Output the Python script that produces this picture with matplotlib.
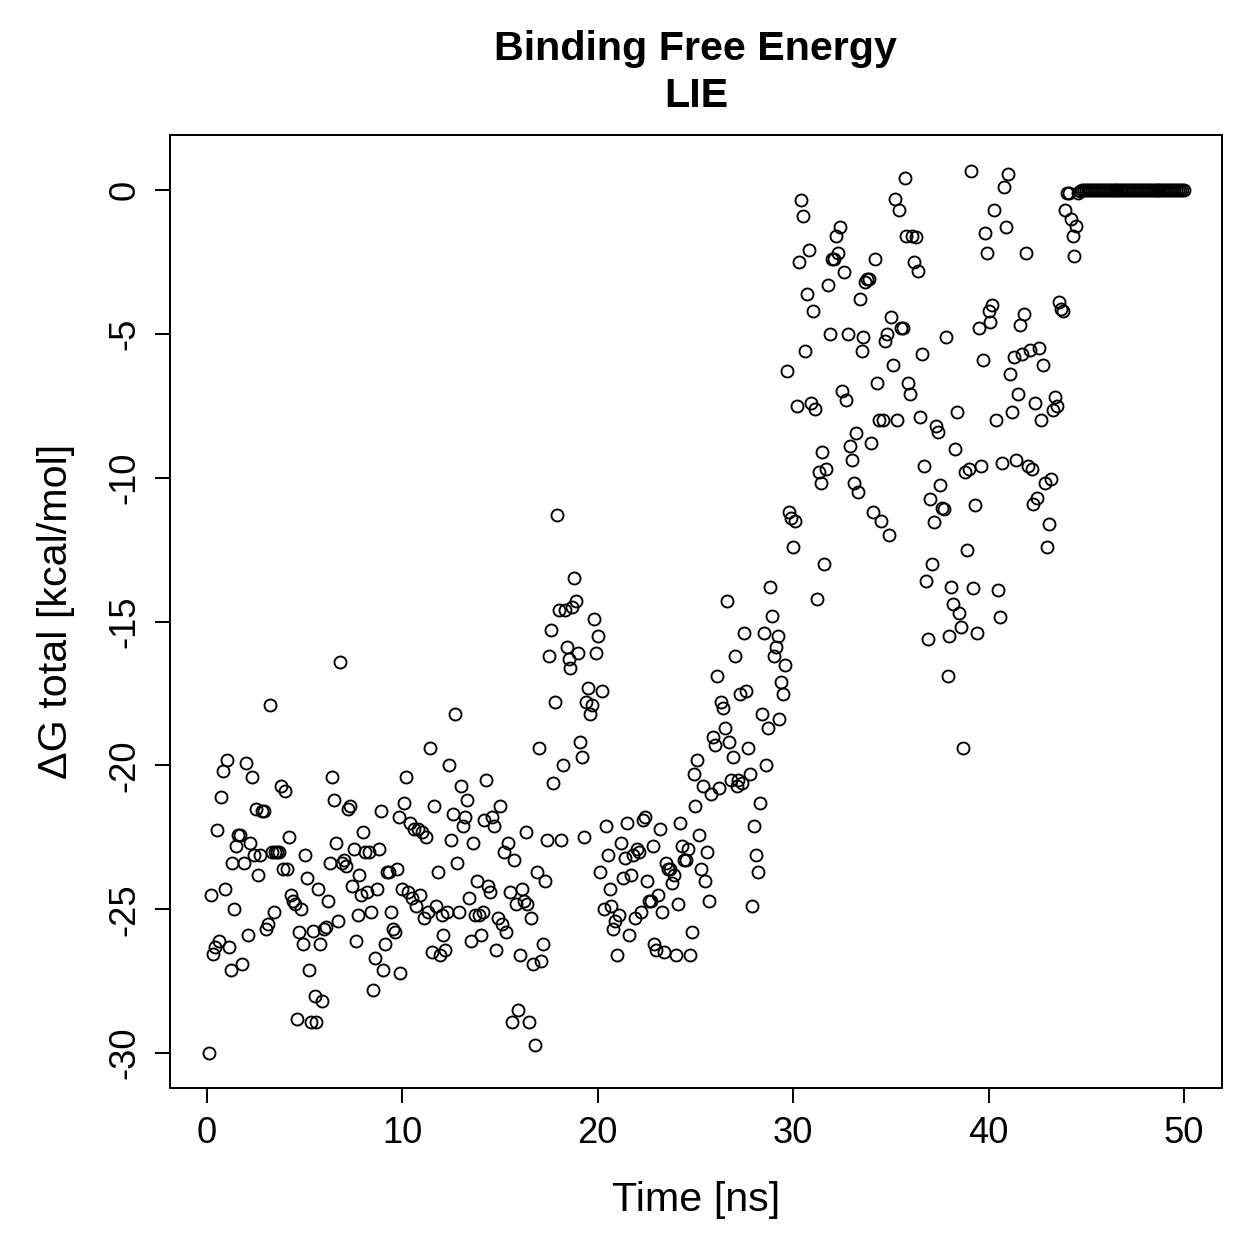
import numpy as np
import matplotlib
matplotlib.use("Agg")
import matplotlib.pyplot as plt

plt.rcParams['font.family'] = ['Liberation Sans', 'DejaVu Sans']

# dG readings for frames 0.1 ns apart (0.1 ... ~44.6 ns)
dg_head = [
    -30.0, -24.5, -26.55, -26.3, -22.25, -26.1, -21.1, -20.2, -24.3, -19.8,
    -26.3, -27.1, -23.4, -25.0, -22.8, -22.4, -22.4, -26.9, -23.4, -19.9,
    -25.9, -22.7, -20.4, -23.1, -21.5, -23.8, -23.1, -21.6, -21.6, -25.7,
    -25.5, -17.9, -23.0, -25.1, -23.0, -23.0, -23.0, -20.7, -23.6, -20.9,
    -23.6, -22.5, -24.5, -24.7, -24.8, -28.8, -25.8, -25.0, -26.2, -23.1,
    -23.9, -27.1, -28.9, -25.75, -28.0, -28.9, -24.3, -26.2, -28.2, -25.7,
    -25.6, -24.7, -23.4, -20.4, -21.2, -22.7, -25.4, -16.4, -23.4, -23.3,
    -23.5, -21.5, -21.4, -24.2, -22.9, -26.1, -25.2, -23.8, -24.5, -22.3,
    -23.0, -24.4, -23.0, -25.1, -27.8, -26.7, -24.3, -22.9, -21.6, -27.1,
    -26.2, -23.7, -23.7, -25.1, -25.7, -25.8, -23.6, -21.8, -27.2, -24.3,
    -21.3, -20.4, -24.4, -22.0, -24.6, -22.2, -24.9, -22.2, -24.5, -22.3,
    -25.3, -22.5, -25.1, -19.4, -26.5, -21.4, -24.9, -23.7, -26.6, -25.2,
    -25.9, -26.4, -25.1, -20.0, -22.6, -21.7, -18.2, -23.4, -25.1, -20.7,
    -22.1, -21.8, -21.2, -24.6, -26.1, -22.7, -25.2, -24.0, -25.2, -25.9,
    -25.1, -21.9, -20.5, -24.2, -24.4, -21.8, -22.1, -26.4, -25.3, -21.4,
    -25.5, -23.0, -25.8, -22.7, -24.4, -28.9, -23.3, -24.8, -28.5, -26.6,
    -24.3, -24.7, -22.3, -24.8, -28.9, -25.3, -26.9, -29.7, -23.7, -19.4,
    -26.8, -26.2, -24.0, -22.6, -16.2, -15.3, -20.6, -17.8, -11.3, -14.6,
    -22.6, -20.0, -14.6, -15.9, -16.3, -16.6, -14.5, -13.5, -14.3, -16.1,
    -19.2, -19.7, -22.5, -17.8, -17.3, -18.2, -17.9, -14.9, -16.1, -15.5,
    -23.7, -17.4, -25.0, -22.1, -23.1, -24.3, -24.9, -25.7, -25.4, -26.6,
    -25.2, -22.7, -23.9, -23.2, -22.0, -25.9, -23.8, -23.1, -25.3, -22.9,
    -23.0, -25.1, -21.9, -21.8, -24.0, -24.7, -24.7, -22.8, -26.2, -26.4,
    -24.5, -22.2, -25.1, -26.5, -23.4, -23.6, -23.6, -24.1, -23.8, -26.6,
    -24.8, -22.0, -22.8, -23.3, -23.3, -22.9, -26.6, -25.8, -20.3, -21.4,
    -19.8, -22.4, -23.6, -20.7, -24.0, -23.0, -24.7, -21.0, -19.0, -19.3,
    -16.9, -20.8, -17.8, -18.0, -18.7, -14.3, -19.2, -20.5, -19.7, -16.2,
    -20.7, -20.5, -17.5, -20.6, -15.4, -17.4, -19.4, -20.3, -24.9, -22.1,
    -23.1, -23.7, -21.3, -18.2, -15.4, -20.0, -18.7, -13.8, -14.8, -16.2,
    -15.9, -15.5, -18.4, -17.1, -17.5, -16.5, -6.3, -11.2, -11.4, -12.4,
    -11.5, -7.5, -2.5, -0.35, -0.9, -5.6, -3.6, -2.1, -7.4, -4.2,
    -7.6, -14.2, -9.8, -10.2, -9.1, -13.0, -9.7, -3.3, -5.0, -2.4,
    -2.4, -1.6, -2.2, -1.3, -7.0, -2.85, -7.3, -5.0, -8.9, -9.4,
    -10.2, -8.45, -10.5, -3.8, -5.6, -5.1, -3.2, -3.1, -3.1, -8.8,
    -11.2, -2.4, -6.7, -8.0, -11.5, -8.0, -5.25, -5.0, -12.0, -4.4,
    -6.1, -0.3, -8.0, -0.7, -4.8, -4.8, 0.4, -1.6, -6.7, -7.1,
    -1.6, -2.5, -1.65, -2.8, -7.9, -5.7, -9.6, -13.6, -15.6, -10.75,
    -13.0, -11.55, -8.2, -8.4, -10.25, -11.05, -11.1, -5.1, -16.9, -15.5,
    -13.8, -14.4, -9.0, -7.7, -14.7, -15.2, -19.4, -9.8, -12.5, -9.7,
    0.65, -13.85, -10.95, -15.4, -4.8, -9.6, -5.9, -1.5, -2.2, -4.2,
    -4.6, -4.0, -0.7, -8.0, -13.9, -14.85, -9.5, 0.1, -1.3, 0.55,
    -6.4, -7.7, -5.8, -9.4, -7.1, -4.7, -5.7, -4.3, -2.2, -9.6,
    -5.55, -9.7, -10.9, -7.4, -10.7, -5.5, -8.0, -6.1, -10.2, -12.4,
    -11.6, -10.05, -7.65, -7.2, -7.5, -3.9, -4.15, -4.2, -0.7, -0.1,
    -0.1, -1.0, -1.6, -2.3, -1.25, -0.1, -0.05, 0.0,
]
# last part of the run sits flat at 0
n_frames = 500
dg_tail = [0.0] * (n_frames - len(dg_head))
dg = np.array(dg_head + dg_tail)
time_ns = np.arange(1, n_frames + 1) * 0.1

fig = plt.figure(figsize=(1259 / 180, 1259 / 180), dpi=180)
ax = fig.add_axes([0.135, 0.1358, 0.8356, 0.757])

ax.plot(time_ns, dg, linestyle='none', marker='o', markersize=4.8,
        markerfacecolor='none', markeredgecolor='black', markeredgewidth=0.75)

ax.set_xlim(-1.9, 51.95)
ax.set_ylim(-31.21, 1.91)
ax.set_xticks([0, 10, 20, 30, 40, 50])
ax.set_yticks([0, -5, -10, -15, -20, -25, -30])
ax.set_yticklabels(['0', '-5', '-10', '-15', '-20', '-25', '-30'],
                   rotation=90, va='center')

for s in ax.spines.values():
    s.set_linewidth(0.8)
ax.tick_params(direction='out', length=6, width=0.8, labelsize=14.5, pad=5)

ax.set_xlabel('Time [ns]', fontsize=16.5, labelpad=12)
ax.set_ylabel('ΔG total [kcal/mol]', fontsize=16.5, labelpad=13)
ax.set_title('Binding Free Energy\nLIE', fontsize=16.5, fontweight='bold',
             pad=11, linespacing=1.3)

fig.savefig('out.png', dpi=180)
